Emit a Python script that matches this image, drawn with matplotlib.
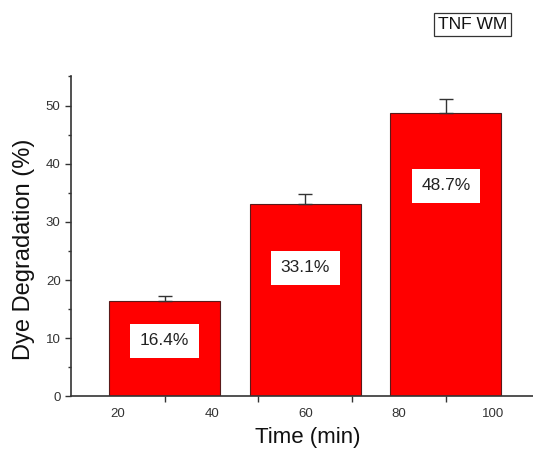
import matplotlib
matplotlib.use("Agg")
import matplotlib.pyplot as plt
from matplotlib.ticker import FixedLocator

# Data
times = [30, 60, 90]
degradation = [16.4, 33.1, 48.7]
errors = [0.8, 1.7, 2.4]
bar_labels = ["16.4%", "33.1%", "48.7%"]
x_tick_labels = ["20", "40", "60", "80", "100"]
x_tick_values = [20, 40, 60, 80, 100]

plt.rcParams['font.family'] = ['Liberation Sans', 'DejaVu Sans']
DARK = '#333333'

fig = plt.figure(figsize=(5.33, 4.5), dpi=100)
ax = fig.add_axes([0.1332, 0.1189, 0.866, 0.7113])

ax.bar(times, degradation, width=23.7, color='#ff0000', edgecolor='#5a1a1a',
       linewidth=0.8, zorder=2)
ax.errorbar(times, degradation, yerr=[[0] * len(errors), errors], fmt='none',
            ecolor=DARK, elinewidth=1.0, capsize=5, capthick=1.0, zorder=3)

# labels inside the bars
label_y = [9.6, 22.1, 36.2]
for x, y, txt in zip(times, label_y, bar_labels):
    ax.text(x, y, txt, ha='center', va='center', fontsize=12.5, color='#222222',
            bbox=dict(boxstyle='square,pad=0.55', fc='white', ec='none'), zorder=4)

ax.set_xlim(10, 108.5)
ax.set_ylim(0, 55)

# x labels sit between the visible tick marks (as in the original)
ax.set_xticks(x_tick_values)
ax.set_xticklabels(x_tick_labels)
ax.xaxis.set_minor_locator(FixedLocator([30, 50, 70, 90]))
ax.tick_params(axis='x', which='major', length=0, pad=8, labelsize=9.5, labelcolor=DARK)
ax.tick_params(axis='x', which='minor', length=4, width=1.0, color=DARK, direction='out')

ax.set_yticks([0, 10, 20, 30, 40, 50])
ax.yaxis.set_minor_locator(FixedLocator([5, 15, 25, 35, 45, 55]))
ax.tick_params(axis='y', which='major', length=4.5, width=1.0, color=DARK,
               labelsize=9.5, labelcolor=DARK, pad=3)
ax.tick_params(axis='y', which='minor', length=2.5, width=1.0, color=DARK)

for side in ['top', 'right']:
    ax.spines[side].set_visible(False)
for side in ['left', 'bottom']:
    ax.spines[side].set_color(DARK)
    ax.spines[side].set_linewidth(1.2)

ax.set_xlabel("Time (min)", fontsize=16, color='#111111')
ax.xaxis.set_label_coords(0.512, -0.095)
ax.set_ylabel("Dye Degradation (%)", fontsize=17, color='#111111')
ax.yaxis.set_label_coords(-0.078, 0.46)

fig.text(0.8865, 0.9456, "TNF WM", ha='center', va='center', fontsize=12.5,
         color='#111111',
         bbox=dict(boxstyle='square,pad=0.25', fc='white', ec='#333333', lw=0.9))

fig.savefig("out.png", dpi=100)
